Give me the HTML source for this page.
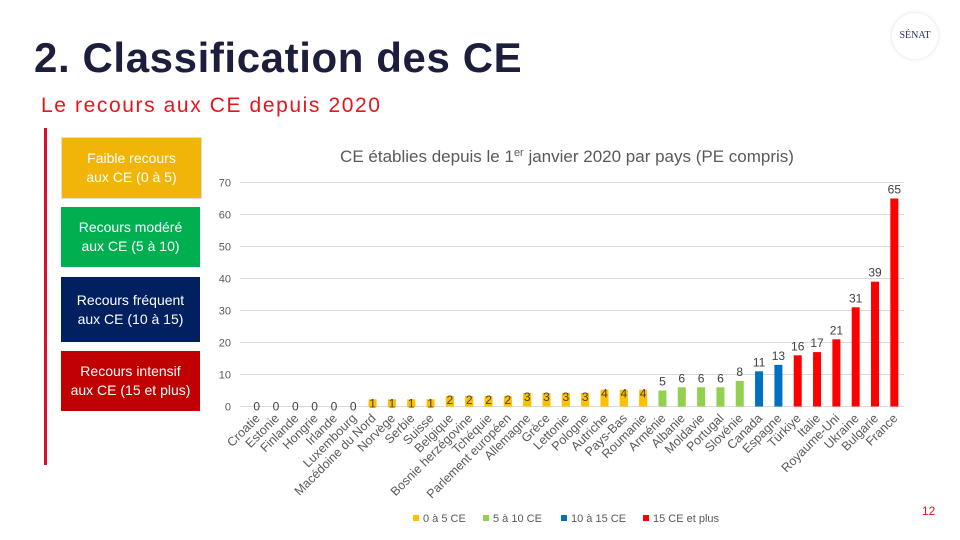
<!DOCTYPE html>
<html><head><meta charset="utf-8"><style>
body{margin:0;width:960px;height:540px;background:#fff;overflow:hidden;position:relative;font-family:"Liberation Sans",sans-serif}
.box{position:absolute;left:61px;width:139px;height:60px;color:#fff;font-size:14px;text-align:center;display:flex;align-items:center;justify-content:center;line-height:19px}
</style></head><body>
<div style="position:absolute;left:34px;top:34px;font-size:42px;font-weight:bold;color:#1c1e3c;letter-spacing:0.6px">2. Classification des CE</div>
<div style="position:absolute;left:41px;top:94px;font-size:21px;color:#e8141c;letter-spacing:1.6px">Le recours aux CE depuis 2020</div>
<div style="position:absolute;left:892px;top:13px;width:46px;height:46px;border-radius:50%;background:#fff;box-shadow:0 0 4px #ddd;font-family:'Liberation Serif',serif;font-size:10px;color:#2a2e6a;text-align:center;line-height:46px">SÉNAT</div>
<div style="position:absolute;left:44px;top:128px;width:3px;height:337px;background:#d6102a"></div>
<div class="box" style="top:137px;background:#f1b408;border:1px solid #ddd">Faible recours<br>aux CE (0 à 5)</div>
<div class="box" style="top:207px;background:#00b050">Recours modéré<br>aux CE (5 à 10)</div>
<div class="box" style="top:277px;height:65px;background:#002060">Recours fréquent<br>aux CE (10 à 15)</div>
<div class="box" style="top:351px;background:#c00000">Recours intensif<br>aux CE (15 et plus)</div>
<div style="position:absolute;left:922px;top:504px;font-size:12px;color:#e8141c">12</div>
<svg id="chart" width="960" height="540" style="position:absolute;left:0;top:0" font-family="Liberation Sans, sans-serif">
<text x="567" y="162" text-anchor="middle" font-size="17" fill="#595959">CE établies depuis le 1<tspan dy="-6" font-size="11">er</tspan><tspan dy="6"> janvier 2020 par pays (PE compris)</tspan></text>
</svg>
<script>
const categories=["Croatie","Estonie","Finlande","Hongrie","Irlande","Luxembourg","Macédoine du Nord","Norvège","Serbie","Suisse","Belgique","Bosnie herzégovine","Tchéquie","Parlement européen","Allemagne","Grèce","Lettonie","Pologne","Autriche","Pays-Bas","Roumanie","Arménie","Albanie","Moldavie","Portugal","Slovénie","Canada","Espagne","Türkiye","Italie","Royaume-Uni","Ukraine","Bulgarie","France"];
const values=[0,0,0,0,0,0,1,1,1,1,2,2,2,2,3,3,3,3,4,4,4,5,6,6,6,8,11,13,16,17,21,31,39,65];
const groups=[0,0,0,0,0,0,0,0,0,0,0,0,0,0,0,0,0,0,0,0,0,1,1,1,1,1,2,2,3,3,3,3,3,3];
const yTicks=[0,10,20,30,40,50,60,70];
const legendLabels=["0 à 5 CE","5 à 10 CE","10 à 15 CE","15 CE et plus"];
const colors=["#ffc000","#92d050","#0070c0","#ff0000"];
const svg=document.getElementById('chart');const NS="http://www.w3.org/2000/svg";
const X0=247,X1=904,Y0=406.5,Y1=182.5,YMAX=70;
const bw=(X1-X0)/categories.length;
const xs=i=>X0+bw*(i+0.5);const ys=v=>Y0-(v/YMAX)*(Y0-Y1);
function mk(t,a){const e=document.createElementNS(NS,t);for(const k in a)e.setAttribute(k,a[k]);svg.appendChild(e);return e;}
yTicks.forEach(t=>{
 const l=mk('line',{x1:240,x2:X1,y1:ys(t),y2:ys(t),stroke:'#d9d9d9','stroke-width':1});
 
 
 const tx=mk('text',{x:231,y:ys(t)+4,'text-anchor':'end','font-size':11,fill:'#595959'});tx.textContent=t;
 
 
});
categories.forEach((c,i)=>{
 const v=values[i],x=xs(i),col=colors[groups[i]];
 const r=mk('rect',{x:x-4,y:ys(v),width:8,height:Y0-ys(v),fill:col});
 
 
 if(v<5&&v>0){const bg=mk('rect',{x:x-4,y:ys(v)-4,width:8,height:Math.max(8,Y0-ys(v)+4),fill:col});
 }
 const lt=mk('text',{x:x,y:v<5?Math.min(ys(v)+4,Y0+4):ys(v)-5,'text-anchor':'middle','font-size':12,fill:'#404040'});lt.textContent=v;
 
 
 const ct=mk('text',{x:x+4,y:419,'text-anchor':'end','font-size':12.5,fill:'#595959',transform:`rotate(-45 ${x+4} 419)`});ct.textContent=c;
 
 
});
const lx=[413,483,561,643];
legendLabels.forEach((L,i)=>{
 const s=mk('rect',{x:lx[i],y:515,width:6,height:6,fill:colors[i]});
 
 
 const t=mk('text',{x:lx[i]+10,y:522,'font-size':11,fill:'#595959'});t.textContent=L;
 
 
});
</script>
</body></html>
